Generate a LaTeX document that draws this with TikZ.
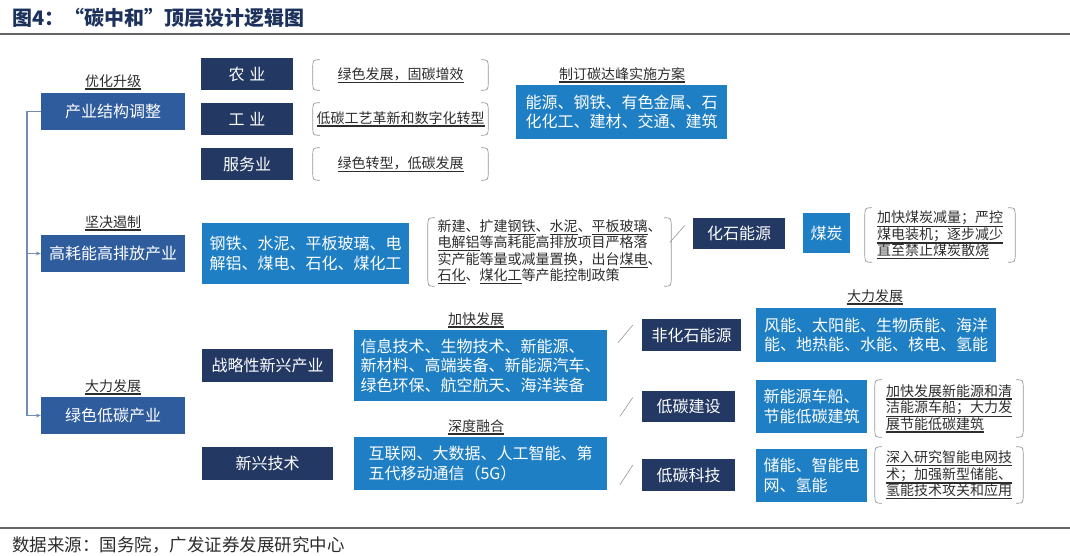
\documentclass[tikz,border=0pt]{standalone}
\usepackage{fontspec}
\setmainfont{Noto Sans CJK SC}
\usepackage{xcolor}
\usepackage{tikz}
\usetikzlibrary{arrows.meta}
\definecolor{fignavy}{RGB}{35,57,100}
\definecolor{figmid}{RGB}{46,92,156}
\definecolor{figbright}{RGB}{30,127,196}
\definecolor{figtext}{RGB}{45,45,45}
\definecolor{figparen}{RGB}{150,150,150}
\definecolor{figtree}{RGB}{115,140,180}
\definecolor{figrule}{RGB}{100,100,100}
\definecolor{figtitle}{RGB}{28,50,92}
\newcommand{\uln}[1]{\leavevmode\vtop{\hbox{#1}\kern1.0pt\hrule height 1.3pt}}
\tikzset{
  dk/.style   ={fill=fignavy, text=white, inner sep=0pt, font=\fontsize{16}{19}\selectfont},
  md/.style   ={fill=figmid, text=white, inner sep=0pt, font=\fontsize{16}{19}\selectfont, minimum width=144, minimum height=37},
  bt/.style   ={fill=figbright, text=white, inner sep=0pt, align=left, font=\fontsize{16}{19.5}\selectfont},
  note/.style ={text=figtext, inner sep=0pt, align=left, font=\fontsize{14}{16.5}\selectfont},
  tag/.style  ={text=figtext, inner sep=0pt, font=\fontsize{14}{16}\selectfont},
  paren/.style={draw=figparen, line width=0.7pt},
  tree/.style ={draw=figtree, line width=1.1pt, -{Stealth[length=5pt,width=4pt]}},
  sl/.style   ={draw=figparen, line width=0.6pt},
}

\begin{document}
\begin{tikzpicture}[x=1pt,y=-1pt]
  \useasboundingbox (0,0) rectangle (1070,556);
  % title and rules
  \node[anchor=west, text=figtitle, inner sep=0pt, font=\fontsize{20}{22}\selectfont\bfseries] (title) at (12,18) {图4：“碳中和”顶层设计逻辑图};
  \draw[figrule, line width=1.6] (0,34) -- (1070,34);
  \draw[figrule, line width=1.2] (0,528) -- (1070,528);
  \node[anchor=west, text=figtext, inner sep=0pt, font=\fontsize{17.5}{19}\selectfont] (src) at (12,545) {数据来源：国务院，广发证券发展研究中心};
  % left column
  \node[tag] (t1) at (113,82) {\uln{优化升级}};
  \node[md] (cyjg) at (113,111.5) {产业结构调整};
  \node[tag] (t2) at (113,223) {\uln{坚决遏制}};
  \node[md] (gaohao) at (113,253.5) {高耗能高排放产业};
  \node[tag] (t3) at (113,387) {\uln{大力发展}};
  \node[md] (lvse) at (113,415.5) {绿色低碳产业};
  \coordinate (spine) at (27,0);
  \draw[tree] (cyjg.west) -- (spine |- cyjg.west) |- (lvse.west);
  \draw[tree] (spine |- gaohao.west) -- (gaohao.west);
  % industry structure
  \node[dk, minimum width=92, minimum height=32] (nongye) at (247,74.5) {农\hspace{5pt}业};
  \node[dk, minimum width=92, minimum height=32] (gongye) at (247,119) {工\hspace{5pt}业};
  \node[dk, minimum width=92, minimum height=32] (fuwu) at (247,164) {服务业};
  \node[note, align=center, minimum width=175, minimum height=30] (b1) at (400.5,75) {\uln{绿色发展，固碳增效}};
  \node[note, align=center, minimum width=175, minimum height=32] (b2) at (400.5,119) {\uln{低碳工艺革新和数字化转型}};
  \node[note, align=center, minimum width=175, minimum height=32] (b3) at (400.5,164) {\uln{绿色转型，低碳发展}};
  \node[tag] (t4) at (622,75) {\uln{制订碳达峰实施方案}};
  \node[bt, minimum width=211, minimum height=54] (fangan) at (621.5,112) {能源、钢铁、有色金属、石\\化化工、建材、交通、建筑};
  % high energy industries
  \node[bt, minimum width=207, minimum height=61] (gangtie) at (305.5,253.5) {钢铁、水泥、平板玻璃、电\\解铝、煤电、石化、煤化工};
  \node[note, minimum width=243, minimum height=68] (b4) at (549.5,252) {新建、扩建\uln{钢铁}、\uln{水泥}、\uln{平板玻璃}、\\\uln{电解铝}等高耗能高排放项目严格落\\实产能等量或减量置换，出台\uln{煤电}、\\\uln{石化}、\uln{煤化工}等产能控制政策};
  \node[dk, minimum width=92, minimum height=31] (fossil) at (739,233.5) {化石能源};
  \node[bt, align=center, minimum width=47, minimum height=40] (meitan) at (826.5,233) {煤炭};
  \node[note, minimum width=150, minimum height=54] (b5) at (940,235) {\uln{加快煤炭减量；严控}\\\uln{煤电装机；逐步减少}\\\uln{直至禁止煤炭散烧}};
  \draw[sl] (fossil.west) ++(-23,9) -- ++(15,-17);
  % green low carbon
  \node[dk, minimum width=131, minimum height=33] (zhanlue) at (267.5,365.5) {战略性新兴产业};
  \node[dk, minimum width=131, minimum height=33] (xinxing) at (267.5,463.5) {新兴技术};
  \node[tag] (t5) at (476,320) {\uln{加快发展}};
  \node[bt, minimum width=253, minimum height=71] (xinxi) at (480.5,365.5) {信息技术、生物技术、新能源、\\新材料、高端装备、新能源汽车、\\绿色环保、航空航天、海洋装备};
  \node[tag] (t6) at (476,427) {\uln{深度融合}};
  \node[bt, minimum width=253, minimum height=53] (hulian) at (480.5,463.5) {互联网、大数据、人工智能、第\\五代移动通信（5G）};
  \node[tag] (t7) at (875,297) {\uln{大力发展}};
  \node[dk, minimum width=99, minimum height=32] (feihua) at (691.5,335) {非化石能源};
  \node[bt, minimum width=240, minimum height=54] (fengneng) at (876,335) {风能、太阳能、生物质能、海洋\\能、地热能、水能、核电、氢能};
  \node[dk, minimum width=93, minimum height=31] (jianshe) at (688.5,406.5) {低碳建设};
  \node[bt, minimum width=111, minimum height=53] (chechuan) at (811.5,406.5) {新能源车船、\\节能低碳建筑};
  \node[note, minimum width=148, minimum height=57] (b6) at (949,408.5) {\uln{加快发展新能源和清}\\\uln{洁能源车船；大力发}\\\uln{展节能低碳建筑}};
  \node[dk, minimum width=93, minimum height=32] (keji) at (688.5,475) {低碳科技};
  \node[bt, minimum width=111, minimum height=53] (chuneng) at (811.5,475.5) {储能、智能电\\网、氢能};
  \node[note, minimum width=148, minimum height=56] (b7) at (949,475) {\uln{深入研究智能电网技}\\\uln{术；加强新型储能、}\\\uln{氢能技术攻关和应用}};
  \draw[sl] (feihua.west) ++(-24,8) -- ++(15,-18);
  \draw[sl] (jianshe.west) ++(-22,10) -- ++(13,-19);
  \draw[sl] (keji.west) ++(-22,10) -- ++(13,-20);
  % round brackets
  \draw[paren] ([xshift=7]b1.north west) .. controls (b1.north west) .. ([yshift=-9]b1.north west) -- ([yshift=9]b1.south west) .. controls (b1.south west) .. ([xshift=7]b1.south west)
    ([xshift=-7]b1.north east) .. controls (b1.north east) .. ([yshift=-9]b1.north east) -- ([yshift=9]b1.south east) .. controls (b1.south east) .. ([xshift=-7]b1.south east);
  \draw[paren] ([xshift=7]b2.north west) .. controls (b2.north west) .. ([yshift=-9]b2.north west) -- ([yshift=9]b2.south west) .. controls (b2.south west) .. ([xshift=7]b2.south west)
    ([xshift=-7]b2.north east) .. controls (b2.north east) .. ([yshift=-9]b2.north east) -- ([yshift=9]b2.south east) .. controls (b2.south east) .. ([xshift=-7]b2.south east);
  \draw[paren] ([xshift=7]b3.north west) .. controls (b3.north west) .. ([yshift=-9]b3.north west) -- ([yshift=9]b3.south west) .. controls (b3.south west) .. ([xshift=7]b3.south west)
    ([xshift=-7]b3.north east) .. controls (b3.north east) .. ([yshift=-9]b3.north east) -- ([yshift=9]b3.south east) .. controls (b3.south east) .. ([xshift=-7]b3.south east);
  \draw[paren] ([xshift=7]b4.north west) .. controls (b4.north west) .. ([yshift=-10]b4.north west) -- ([yshift=10]b4.south west) .. controls (b4.south west) .. ([xshift=7]b4.south west)
    ([xshift=-7]b4.north east) .. controls (b4.north east) .. ([yshift=-10]b4.north east) -- ([yshift=10]b4.south east) .. controls (b4.south east) .. ([xshift=-7]b4.south east);
  \draw[paren] ([xshift=7]b5.north west) .. controls (b5.north west) .. ([yshift=-10]b5.north west) -- ([yshift=10]b5.south west) .. controls (b5.south west) .. ([xshift=7]b5.south west)
    ([xshift=-7]b5.north east) .. controls (b5.north east) .. ([yshift=-10]b5.north east) -- ([yshift=10]b5.south east) .. controls (b5.south east) .. ([xshift=-7]b5.south east);
  \draw[paren] ([xshift=7]b6.north west) .. controls (b6.north west) .. ([yshift=-10]b6.north west) -- ([yshift=10]b6.south west) .. controls (b6.south west) .. ([xshift=7]b6.south west)
    ([xshift=-7]b6.north east) .. controls (b6.north east) .. ([yshift=-10]b6.north east) -- ([yshift=10]b6.south east) .. controls (b6.south east) .. ([xshift=-7]b6.south east);
  \draw[paren] ([xshift=7]b7.north west) .. controls (b7.north west) .. ([yshift=-10]b7.north west) -- ([yshift=10]b7.south west) .. controls (b7.south west) .. ([xshift=7]b7.south west)
    ([xshift=-7]b7.north east) .. controls (b7.north east) .. ([yshift=-10]b7.north east) -- ([yshift=10]b7.south east) .. controls (b7.south east) .. ([xshift=-7]b7.south east);
\end{tikzpicture}
\end{document}
